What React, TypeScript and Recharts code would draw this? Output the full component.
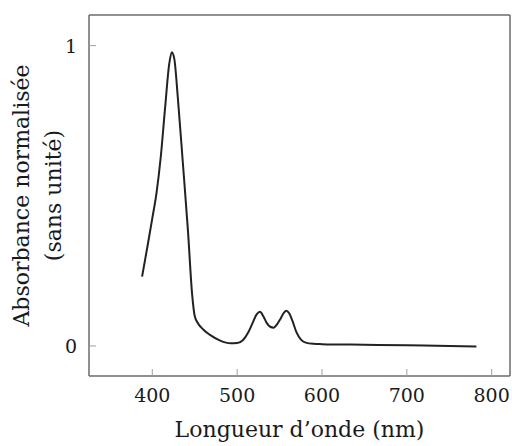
import { LineChart, Line, XAxis, YAxis } from 'recharts';

// spectre d'absorption
const wavelengths = [
  388, 395, 400, 405, 410, 415, 420, 423, 426, 430, 436, 442, 447, 450, 454, 460, 468, 480,
  492, 500, 507, 513, 518, 523, 527, 531, 535, 539, 543, 547, 551, 555, 558, 561, 565, 570,
  575, 580, 590, 600, 650, 700, 750, 782,
];
const absorbance = [
  0.231, 0.343, 0.425, 0.51, 0.63, 0.79, 0.94, 0.978, 0.955, 0.83, 0.61, 0.385, 0.17, 0.1,
  0.075, 0.055, 0.037, 0.018, 0.009, 0.01, 0.02, 0.045, 0.075, 0.105, 0.114, 0.098, 0.076,
  0.064, 0.061, 0.072, 0.09, 0.11, 0.117, 0.11, 0.085, 0.045, 0.022, 0.012, 0.007, 0.006,
  0.004, 0.002, 0.0, -0.002,
];
const xTicks = [400, 500, 600, 700, 800];
const yTicks = [0, 1];

const data = wavelengths.map((w, i) => ({ w, a: absorbance[i] }));

const FONT = "'DejaVu Serif', serif";
const FRAME = '#6b6b6b';
const TEXT = '#1a1a1a';
const X_DOMAIN = [325.4, 821.6];
const Y_DOMAIN = [-0.1, 1.102];

function XTick({ x, y, payload }: any) {
  return (
    <g>
      <line x1={x} y1={y} x2={x} y2={y - 7} stroke="#a0a0a0" strokeWidth={1} />
      <text x={x} y={y + 26} textAnchor="middle" fontFamily={FONT} fontSize={19} fill={TEXT}>
        {payload.value}
      </text>
    </g>
  );
}

function YTick({ x, y, payload }: any) {
  return (
    <g>
      <line x1={x} y1={y} x2={x + 7} y2={y} stroke="#a0a0a0" strokeWidth={1} />
      <text x={x - 12} y={y + 7} textAnchor="end" fontFamily={FONT} fontSize={19} fill={TEXT}>
        {payload.value}
      </text>
    </g>
  );
}

function YTitle({ viewBox }: any) {
  const cy = viewBox.y + viewBox.height / 2;
  return (
    <g fontFamily={FONT} fontSize={22} fill={TEXT} textAnchor="middle">
      <text x={29} y={cy} transform={`rotate(-90, 29, ${cy})`}>
        Absorbance normalisée
      </text>
      <text x={61} y={cy} transform={`rotate(-90, 61, ${cy})`}>
        (sans unité)
      </text>
    </g>
  );
}

function XTitle({ viewBox }: any) {
  const cx = viewBox.x + viewBox.width / 2;
  return (
    <text x={cx} y={437} textAnchor="middle" fontFamily={FONT} fontSize={22} fill={TEXT}>
      Longueur d’onde (nm)
    </text>
  );
}

export default function App() {
  return (
    <div style={{ position: 'absolute', left: 0, top: 0, background: '#fff' }}>
      <LineChart
        width={512}
        height={446}
        data={data}
        margin={{ top: 14, right: 1, bottom: 69, left: 88 }}
      >
        <XAxis
          dataKey="w"
          type="number"
          domain={X_DOMAIN}
          ticks={xTicks}
          allowDataOverflow
          height={1}
          tickSize={0}
          tickMargin={0}
          tickLine={false}
          tick={<XTick />}
          axisLine={{ stroke: FRAME, strokeWidth: 1.5 }}
          label={{ content: <XTitle /> }}
        />
        <XAxis
          xAxisId="top"
          dataKey="w"
          type="number"
          orientation="top"
          domain={X_DOMAIN}
          allowDataOverflow
          height={1}
          tick={false}
          tickLine={false}
          axisLine={{ stroke: FRAME, strokeWidth: 1.5 }}
        />
        <YAxis
          type="number"
          domain={Y_DOMAIN}
          ticks={yTicks}
          allowDataOverflow
          width={1}
          tickSize={0}
          tickMargin={0}
          tickLine={false}
          tick={<YTick />}
          axisLine={{ stroke: FRAME, strokeWidth: 1.5 }}
          label={{ content: <YTitle /> }}
        />
        <YAxis
          yAxisId="right"
          orientation="right"
          type="number"
          domain={Y_DOMAIN}
          allowDataOverflow
          width={1}
          tick={false}
          tickLine={false}
          axisLine={{ stroke: FRAME, strokeWidth: 1.5 }}
        />
        <Line
          type="monotone"
          dataKey="a"
          stroke="#222"
          strokeWidth={2}
          dot={false}
          isAnimationActive={false}
        />
      </LineChart>
    </div>
  );
}
